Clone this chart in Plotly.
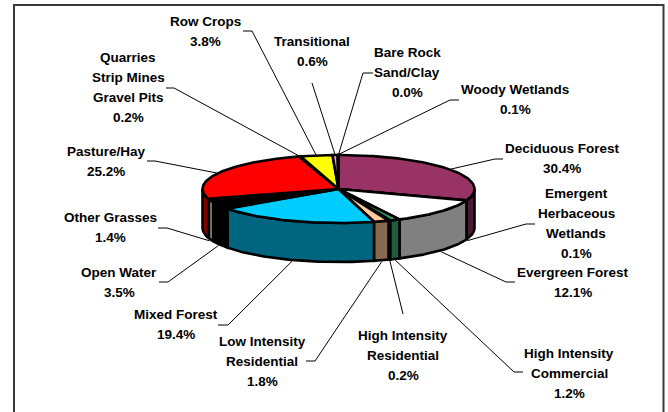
import numpy as np
import plotly.graph_objects as go

# ---- data (clockwise from 12 o'clock) ----
categories = ["Bare Rock Sand/Clay", "Deciduous Forest", "Emergent Herbaceous Wetlands",
              "Evergreen Forest", "High Intensity Commercial", "High Intensity Residential",
              "Low Intensity Residential", "Mixed Forest", "Open Water", "Other Grasses",
              "Pasture/Hay", "Quarries Strip Mines Gravel Pits", "Row Crops", "Transitional",
              "Woody Wetlands"]
percent_values = [0.0, 30.4, 0.1, 12.1, 1.2, 0.2, 1.8, 19.4, 3.5, 1.4, 25.2, 0.2, 3.8, 0.6, 0.1]
label_lines = [["Bare Rock", "Sand/Clay"], ["Deciduous Forest"],
               ["Emergent", "Herbaceous", "Wetlands"], ["Evergreen Forest"],
               ["High Intensity", "Commercial"], ["High Intensity", "Residential"],
               ["Low Intensity", "Residential"], ["Mixed Forest"], ["Open Water"],
               ["Other Grasses"], ["Pasture/Hay"], ["Quarries", "Strip Mines", "Gravel Pits"],
               ["Row Crops"], ["Transitional"], ["Woody Wetlands"]]

# ---- styles ----
top_colors = ["#CCFFFF", "#993366", "#FFFFFF", "#FFFFFF", "#339966", "#000000", "#FFCC99",
              "#00CCFF", "#000000", "#000000", "#FF0000", "#000000", "#FFFF00", "#FF99CC", "#FFFFFF"]
side_colors = ["#668080", "#4D1A33", "#808080", "#808080", "#1F5C3D", "#000000", "#86694F",
               "#006680", "#000000", "#A8A888", "#800000", "#000000", "#808000", "#804D66", "#808080"]

# ---- layout of the drawing, in pixels of the 668x412 page ----
CX, CY, RX, RY, DEPTH = 338.5, 189.0, 136.0, 34.0, 39.0
FRAME = dict(x0=14, x1=663.5, y0=5, y1=430)
# centre x, first line y, and the elbow of the leader: (label side x, elbow x, elbow y)
label_pos = [(407, 52, 373, 363, 73), (562, 148, 503, 495, 159), (576, 193, 535, 526, 224),
             (573, 272, 515, 506, 282), (569, 353, 523, 514, 372), (403, 335, 403, 403, 314),
             (262, 341, 306, 315, 361), (176, 314, 218, 228, 325), (119, 272, 159, 168, 282),
             (110, 217, 158, 167, 228), (106, 151, 147, 155, 161), (128, 57, 166, 174, 88),
             (205, 21, 243, 252, 31), (312, 41, 312, 312, 83), (515, 89, 459, 450, 100)]
LINE_GAP = 20

vals = np.array(percent_values)
edges = np.concatenate([[0], np.cumsum(vals)]) / vals.sum() * 2 * np.pi
OUTLINE = dict(color="black", width=2.6)


def rim(t, dy=0.0, k=1.0):
    return CX + k * RX * np.sin(t), CY - k * RY * np.cos(t) + dy


fig = go.Figure()


def poly(xs, ys, color):
    fig.add_trace(go.Scatter(x=xs, y=ys, mode="lines", fill="toself", fillcolor=color,
                             line=OUTLINE, hoverinfo="skip", showlegend=False))


# side walls: only the part of the rim facing the viewer
for i in range(len(vals)):
    a, b = max(edges[i], np.pi / 2), min(edges[i + 1], 1.5 * np.pi)
    if b <= a:
        continue
    t = np.linspace(a, b, 60)
    x1, y1 = rim(t)
    x2, y2 = rim(t[::-1], DEPTH)
    poly(list(x1) + list(x2) + [x1[0]], list(y1) + list(y2) + [y1[0]], side_colors[i])

# top faces
for i in range(len(vals)):
    if vals[i] == 0:
        continue
    t = np.linspace(edges[i], edges[i + 1], 90)
    x, y = rim(t)
    poly([CX] + list(x) + [CX], [CY] + list(y) + [CY], top_colors[i])

# leader lines: from the label elbow to the middle of the slice on the rim
for i in range(len(vals)):
    mid = (edges[i] + edges[i + 1]) / 2
    front = np.pi / 2 < mid < 1.5 * np.pi
    ex, ey = rim(mid, DEPTH + 1.0 if front else 0.0, 1.01)
    _, _, side_x, elbow_x, elbow_y = label_pos[i]
    fig.add_trace(go.Scatter(x=[side_x, elbow_x, ex], y=[elbow_y, elbow_y, ey], mode="lines",
                             line=dict(color="black", width=1), hoverinfo="skip", showlegend=False))

# labels
for i in range(len(vals)):
    cx, y0, *_ = label_pos[i]
    lines = label_lines[i] + [f"{percent_values[i]:.1f}%"]
    for n, text in enumerate(lines):
        fig.add_annotation(x=cx, y=y0 + n * LINE_GAP, text=f"<b>{text}</b>", showarrow=False,
                           xanchor="center", yanchor="middle",
                           font=dict(family="Liberation Sans, Arial, sans-serif", size=13.5, color="black"))

fig.add_shape(type="rect", layer="below", line=dict(color="#3A3A3A", width=2), **FRAME)
fig.update_layout(width=668, height=412, margin=dict(l=0, r=0, t=0, b=0),
                  paper_bgcolor="white", plot_bgcolor="white", showlegend=False,
                  xaxis=dict(range=[0, 668], visible=False, fixedrange=True),
                  yaxis=dict(range=[412, 0], visible=False, fixedrange=True))
fig.write_html("out.html", config=dict(displayModeBar=False),
               post_script="document.body.style.margin='0';document.body.style.overflow='hidden';")
